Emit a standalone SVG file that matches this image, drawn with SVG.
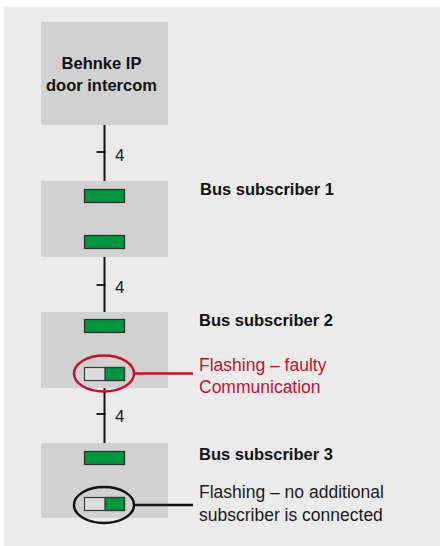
<svg xmlns="http://www.w3.org/2000/svg" width="441" height="546" viewBox="0 0 441 546">
  <defs>
    <style>
      .panel { fill: #ebebeb; }
      .box { fill: #d0d1d0; }
      .led { fill: #009640; stroke: #2b2b2b; stroke-width: 1.2; }
      .led-off { fill: #dcdcdc; }
      .led-frame { fill: none; stroke: #3a3a3a; stroke-width: 1.2; }
      .bus { stroke: #111; stroke-width: 2; fill: none; }
      .tick { stroke: #111; stroke-width: 1.8; }
      .title { font-family: "Liberation Sans", Arial, sans-serif; font-weight: bold; font-size: 16.5px; fill: #111; }
      .note { font-family: "Liberation Sans", Arial, sans-serif; font-size: 17.5px; fill: #1a1a1a; }
      .num { font-family: "Liberation Sans", Arial, sans-serif; font-size: 17px; fill: #1a1a1a; }
      .red { fill: #c8102e; }
      .ring-red { fill: none; stroke: #c8102e; stroke-width: 2.5; }
      .ring-black { fill: none; stroke: #111; stroke-width: 2.5; }
      .lead-red { stroke: #c8102e; stroke-width: 2.5; }
      .lead-black { stroke: #111; stroke-width: 2.5; }
    </style>
  </defs>

  <rect class="panel" x="4" y="7" width="436" height="539"/>

  <!-- 4-wire bus connections -->
  <g id="connectors">
    <line class="bus" x1="104.5" y1="125" x2="104.5" y2="181"/>
    <line class="tick" x1="96.5" y1="152" x2="105.5" y2="152"/>
    <text class="num" x="115" y="161">4</text>

    <line class="bus" x1="104.5" y1="257" x2="104.5" y2="312"/>
    <line class="tick" x1="96.5" y1="285" x2="105.5" y2="285"/>
    <text class="num" x="115" y="293">4</text>

    <line class="bus" x1="104.5" y1="388" x2="104.5" y2="443"/>
    <line class="tick" x1="96.5" y1="414" x2="105.5" y2="414"/>
    <text class="num" x="115" y="422">4</text>
  </g>

  <g id="intercom">
    <rect class="box" x="41" y="22" width="127" height="103"/>
    <text class="title" x="101.5" y="69" text-anchor="middle">Behnke IP</text>
    <text class="title" x="101.5" y="91" text-anchor="middle">door intercom</text>
  </g>

  <g id="subscriber1">
    <rect class="box" x="41" y="181" width="127" height="76"/>
    <rect class="led" x="84.5" y="189.5" width="40" height="13"/>
    <rect class="led" x="84.5" y="235.5" width="40" height="13"/>
    <text class="title" x="200" y="195">Bus subscriber 1</text>
  </g>

  <g id="subscriber2">
    <rect class="box" x="41" y="312" width="127" height="76"/>
    <rect class="led" x="84.5" y="319.5" width="40" height="13"/>
    <rect class="led-off" x="84.5" y="367.5" width="20.5" height="13"/>
    <rect class="led" x="105" y="367.5" width="19.5" height="13"/>
    <rect class="led-frame" x="84.5" y="367.5" width="40" height="13"/>
    <ellipse class="ring-red" cx="104" cy="373.5" rx="30" ry="18"/>
    <line class="lead-red" x1="134" y1="373.5" x2="193" y2="373.5"/>
    <text class="title" x="199" y="326">Bus subscriber 2</text>
    <text class="note red" x="199" y="371">Flashing – faulty</text>
    <text class="note red" x="199" y="393">Communication</text>
  </g>

  <g id="subscriber3">
    <rect class="box" x="41" y="443" width="127" height="75"/>
    <rect class="led" x="84.5" y="451.5" width="40" height="13"/>
    <rect class="led-off" x="84.5" y="497.5" width="20.5" height="13"/>
    <rect class="led" x="105" y="497.5" width="19.5" height="13"/>
    <rect class="led-frame" x="84.5" y="497.5" width="40" height="13"/>
    <ellipse class="ring-black" cx="104" cy="505" rx="30" ry="18"/>
    <line class="lead-black" x1="134" y1="505" x2="193" y2="505"/>
    <text class="title" x="199" y="460">Bus subscriber 3</text>
    <text class="note" x="199" y="498">Flashing – no additional</text>
    <text class="note" x="199" y="521">subscriber is connected</text>
  </g>
</svg>
